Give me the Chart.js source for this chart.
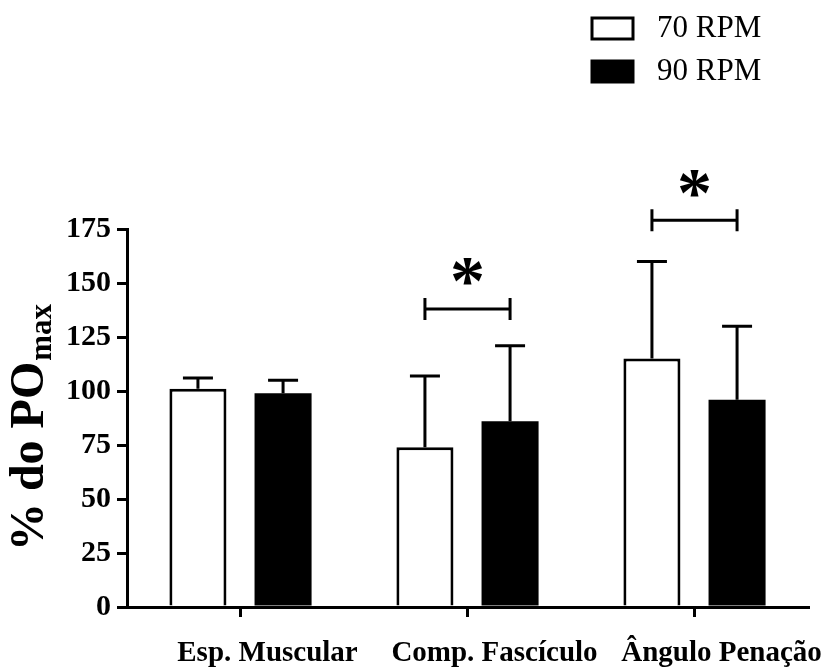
<!DOCTYPE html>
<html>
<head>
<meta charset="utf-8">
<script src="https://cdn.jsdelivr.net/npm/chart.js@4/dist/chart.umd.min.js"></script>
<style>
  html, body { margin: 0; padding: 0; background: #fff; }
  #wrap { width: 829px; height: 670px; }
</style>
</head>
<body>
<div id="wrap"><canvas id="muscleChart" width="829" height="670"></canvas></div>
<script>
const categories = ['Esp. Muscular', 'Comp. Fascículo', 'Ângulo Penação'];
const series = ['70 RPM', '90 RPM'];
const mean70 = [101, 74, 115];
const sd70 = [5, 33, 45];
const mean90 = [99, 86, 96];
const sd90 = [6, 35, 34];
// height of the significance bracket per category (null = none)
const sigBracket = [null, 138, 179];

const serif = '"Liberation Serif", "Times New Roman", serif';

const extrasPlugin = {
  id: 'extras',
  afterDatasetsDraw(chart) {
    const ctx = chart.ctx;
    const y = chart.scales.y;
    const sds = [sd70, sd90];
    ctx.save();
    ctx.strokeStyle = '#000';
    ctx.lineWidth = 3;
    ctx.lineCap = 'butt';

    // error bars (upper only)
    chart.data.datasets.forEach((ds, di) => {
      const meta = chart.getDatasetMeta(di);
      meta.data.forEach((bar, i) => {
        const top = y.getPixelForValue(ds.data[i] + sds[di][i]);
        ctx.beginPath();
        ctx.moveTo(bar.x, bar.y);
        ctx.lineTo(bar.x, top);
        ctx.moveTo(bar.x - 15, top);
        ctx.lineTo(bar.x + 15, top);
        ctx.stroke();
      });
    });

    // significance brackets
    const m0 = chart.getDatasetMeta(0), m1 = chart.getDatasetMeta(1);
    sigBracket.forEach((v, i) => {
      if (v == null) return;
      const py = y.getPixelForValue(v);
      const x0 = m0.data[i].x, x1 = m1.data[i].x;
      ctx.beginPath();
      ctx.moveTo(x0, py); ctx.lineTo(x1, py);
      ctx.moveTo(x0, py - 11); ctx.lineTo(x0, py + 11);
      ctx.moveTo(x1, py - 11); ctx.lineTo(x1, py + 11);
      ctx.stroke();
      ctx.fillStyle = '#000';
      ctx.font = 'bold 70px ' + serif;
      ctx.textAlign = 'center';
      ctx.textBaseline = 'alphabetic';
      const mt = ctx.measureText('*');
      const cy = py - 37;
      const off = (mt.actualBoundingBoxAscent - mt.actualBoundingBoxDescent) / 2;
      ctx.fillText('*', (x0 + x1) / 2, cy + off);
    });

    // y axis title with subscript
    ctx.save();
    ctx.translate(31, (chart.chartArea.top + chart.chartArea.bottom) / 2 + 10);
    ctx.rotate(-Math.PI / 2);
    ctx.fillStyle = '#000';
    ctx.textBaseline = 'middle';
    ctx.textAlign = 'left';
    const main = '% do PO', sub = 'max';
    ctx.font = 'bold 48px ' + serif;
    const wMain = ctx.measureText(main).width;
    ctx.font = 'bold 31px ' + serif;
    const wSub = ctx.measureText(sub).width;
    const start = -(wMain + wSub) / 2;
    ctx.font = 'bold 48px ' + serif;
    ctx.fillText(main, start, 0);
    ctx.font = 'bold 31px ' + serif;
    ctx.fillText(sub, start + wMain + 1, 12);
    ctx.restore();

    // legend
    const rows = [{ y: 28, fill: '#fff' }, { y: 71, fill: '#000' }];
    rows.forEach((r, i) => {
      ctx.lineWidth = 3;
      ctx.fillStyle = r.fill;
      ctx.fillRect(592, r.y - 10, 41, 21);
      ctx.strokeRect(592, r.y - 10, 41, 21);
      ctx.fillStyle = '#000';
      ctx.font = '31px ' + serif;
      ctx.textAlign = 'left';
      ctx.textBaseline = 'middle';
      ctx.fillText(series[i], 657, r.y + 1);
    });
    ctx.restore();
  }
};

new Chart(document.getElementById('muscleChart'), {
  type: 'bar',
  data: {
    labels: categories,
    datasets: [
      { label: series[0], data: mean70, backgroundColor: '#fff', borderColor: '#000', borderWidth: 3 },
      { label: series[1], data: mean90, backgroundColor: '#000', borderColor: '#000', borderWidth: 0 }
    ]
  },
  options: {
    responsive: false,
    animation: false,
    categoryPercentage: 0.75,
    barPercentage: 0.67,
    layout: { padding: { top: 229, right: 21, left: 0, bottom: 0 } },
    plugins: { legend: { display: false }, tooltip: { enabled: false } },
    scales: {
      x: {
        grid: { offset: false, drawOnChartArea: false, drawTicks: true, tickLength: 10, lineWidth: 3, color: '#000' },
        border: { display: true, width: 3, color: '#000' },
        ticks: { color: '#000', font: { family: serif, size: 29, weight: 'bold' }, labelOffset: 27, padding: 19, maxRotation: 0, autoSkip: false },
        afterFit: s => { s.height = 63; }
      },
      y: {
        min: 0,
        max: 175,
        grid: { drawOnChartArea: false, drawTicks: true, tickLength: 10, lineWidth: 3, color: '#000' },
        border: { display: true, width: 3, color: '#000' },
        ticks: { stepSize: 25, color: '#000', font: { family: serif, size: 30, weight: 'bold' }, padding: 6 },
        afterFit: s => { s.width = 127; }
      }
    }
  },
  plugins: [extrasPlugin]
});
</script>
</body>
</html>
